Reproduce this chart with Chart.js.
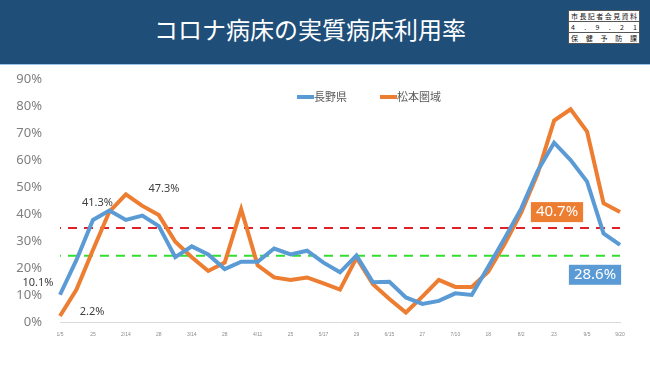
<!DOCTYPE html>
<html>
<head>
<meta charset="utf-8">
<script src="https://cdn.jsdelivr.net/npm/chart.js@4"></script>
<style>
  body { margin: 0; width: 650px; height: 365px; overflow: hidden; background: #fff; font-family: "Noto Sans CJK JP", "Noto Sans", sans-serif; }
  #header { position: absolute; left: 0; top: 0; width: 650px; height: 64px; background: #1f4e79; border-bottom: 1px solid #9dc3e6; }
  #title { position: absolute; left: 0; width: 620px; top: 12px; text-align: center; color: #fff; font-size: 24px; line-height: 34px; }
  #stamp { position: absolute; left: 568px; top: 10px; width: 72px; background: #fff; border-collapse: collapse; }
  #stamp td { border: 1px solid #555; font-size: 7px; line-height: 10px; height: 10px; padding: 0 2px; color: #111; text-align: justify; text-align-last: justify; }
  #wrap { position: absolute; left: 0; top: 0; width: 650px; height: 365px; }
</style>
</head>
<body>
<div id="wrap"><canvas id="bedChart" width="650" height="365"></canvas></div>
<div id="header">
  <div id="title">コロナ病床の実質病床利用率</div>
  <table id="stamp">
    <tr><td>市長記者会見資料</td></tr>
    <tr><td>4 . 9 . 2 1</td></tr>
    <tr><td>保 健 予 防 課</td></tr>
  </table>
</div>
<script>
// Tick labels shown under every other week
const tickLabels = ['1/5', '25', '2/14', '28', '3/14', '28', '4/11', '25', '5/17', '29', '6/15', '27', '7/10', '18', '8/2', '23', '9/5', '9/20'];

// 長野県 (%)
const naganoValues = [10.1, 23, 37.8, 41.3, 37.8, 39.4, 35.5, 24, 28, 25,
  19.6, 22.3, 22.3, 27.2, 25, 26.4, 22, 18.4, 24.6, 14.7,
  14.9, 9.1, 6.7, 7.8, 10.6, 10, 20.5, 31, 42, 56,
  66.4, 60, 52, 32.8, 28.6];

// 松本圏域 (%)
const matsumotoValues = [2.2, 12, 26.7, 40.9, 47.3, 43, 39.6, 29.7, 24, 18.9,
  22, 41.8, 21, 16.5, 15.6, 16.5, 14.3, 12, 23.8, 14,
  8.5, 3.5, 9.4, 15.6, 13, 13, 18.6, 29, 40.5, 55,
  74.6, 78.8, 70.5, 44, 40.7];

const redLineValue = 34.8;
const greenLineValue = 24.5;

// 35 weekly points, label on every other one
const categories = [];
tickLabels.forEach((t, i) => {
  categories.push(t);
  if (i < tickLabels.length - 1) categories.push('');
});

const blue = '#5b9bd5';
const orange = '#ed7d31';

// Callouts drawn next to chosen points
const callouts = [
  { ds: 0, index: 0, dx: -22, dy: -12 },
  { ds: 1, index: 0, dx: 32, dy: -4 },
  { ds: 0, index: 3, dx: -12, dy: -8 },
  { ds: 1, index: 4, dx: 38, dy: -5 },
  { ds: 1, index: 34, dx: -63, dy: 0, box: orange },
  { ds: 0, index: 34, dx: -25, dy: 30, box: blue }
];

const calloutPlugin = {
  id: 'callouts',
  afterDatasetsDraw(chart) {
    const ctx = chart.ctx;
    const x = chart.scales.x;
    const y = chart.scales.y;
    ctx.save();
    ctx.textAlign = 'center';
    ctx.textBaseline = 'middle';
    callouts.forEach(c => {
      const value = chart.data.datasets[c.ds].data[c.index];
      const px = x.getPixelForValue(c.index) + c.dx;
      const py = y.getPixelForValue(value) + c.dy;
      const text = value.toFixed(1) + '%';
      if (c.box) {
        ctx.font = '15px "Noto Sans", sans-serif';
        const w = ctx.measureText(text).width + 10;
        ctx.fillStyle = c.box;
        ctx.fillRect(px - w / 2, py - 10, w, 20);
        ctx.fillStyle = '#fff';
      } else {
        ctx.font = '11px "Noto Sans", sans-serif';
        ctx.fillStyle = '#404040';
      }
      ctx.fillText(text, px, py);
    });
    ctx.restore();
  }
};

const legendPlugin = {
  id: 'lineLegend',
  afterDraw(chart) {
    const ctx = chart.ctx;
    const items = [
      { label: '長野県', color: blue, x: 297 },
      { label: '松本圏域', color: orange, x: 380 }
    ];
    ctx.save();
    ctx.font = '11px "Noto Sans CJK JP", sans-serif';
    ctx.textBaseline = 'middle';
    ctx.textAlign = 'left';
    items.forEach(item => {
      ctx.strokeStyle = item.color;
      ctx.lineWidth = 4;
      ctx.beginPath();
      ctx.moveTo(item.x, 97);
      ctx.lineTo(item.x + 17, 97);
      ctx.stroke();
      ctx.fillStyle = '#595959';
      ctx.fillText(item.label, item.x + 17, 97);
    });
    ctx.restore();
  }
};

new Chart(document.getElementById('bedChart'), {
  type: 'line',
  data: {
    labels: categories,
    datasets: [
      {
        label: '長野県',
        data: naganoValues,
        borderColor: blue,
        borderWidth: 4,
        pointRadius: 0,
        tension: 0
      },
      {
        label: '松本圏域',
        data: matsumotoValues,
        borderColor: orange,
        borderWidth: 4,
        pointRadius: 0,
        tension: 0
      },
      {
        label: 'red',
        data: categories.map(() => redLineValue),
        borderColor: '#e0202a',
        borderWidth: 2,
        borderDash: [9, 7],
        borderDashOffset: -8,
        pointRadius: 0
      },
      {
        label: 'green',
        data: categories.map(() => greenLineValue),
        borderColor: '#33dd33',
        borderWidth: 2,
        borderDash: [9, 7],
        borderDashOffset: -8,
        pointRadius: 0
      }
    ]
  },
  options: {
    responsive: false,
    animation: false,
    layout: {
      padding: { top: 79, right: 30, bottom: 23, left: 0 }
    },
    plugins: {
      legend: { display: false },
      tooltip: { enabled: false }
    },
    scales: {
      x: {
        grid: { display: false },
        border: { color: '#d9d9d9' },
        afterFit: s => { s.height = 20; },
        ticks: {
          autoSkip: false,
          maxRotation: 0,
          padding: 2,
          color: '#8c8c8c',
          font: { size: 5 }
        }
      },
      y: {
        min: 0,
        max: 90,
        grid: { display: false, drawTicks: false },
        border: { display: false },
        afterFit: s => { s.width = 60; },
        ticks: {
          stepSize: 10,
          padding: 18,
          color: '#7f7f7f',
          font: { size: 13, family: '"Noto Sans", sans-serif' },
          callback: v => v + '%'
        }
      }
    }
  },
  plugins: [calloutPlugin, legendPlugin]
});
</script>
</body>
</html>
